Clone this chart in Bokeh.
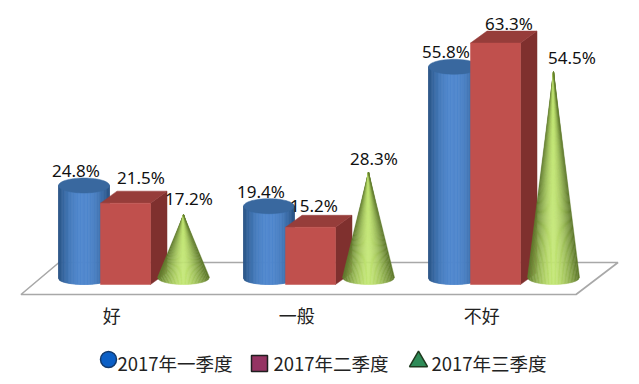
import math
from bokeh.plotting import figure
from bokeh.models import FixedTicker, Range1d
from bokeh.core.properties import value
from bokeh.embed import file_html
from bokeh.resources import INLINE

categories = ["好", "一般", "不好"]
series_names = ["2017年一季度", "2017年二季度", "2017年三季度"]
q1_values = [24.8, 19.4, 55.8]
q2_values = [21.5, 15.2, 63.3]
q3_values = [17.2, 28.3, 54.5]
tick_positions = [0.15, 1.15, 2.15]

# layout: pixels per unit on each scale
PX_Y = 3.83
PX_X = 185.0
W, H = 639, 384
BASE_PX = 285.0   # px from top of value 0
X0_PX = 83.5      # px from left of the first group's origin
x0_units = -X0_PX / PX_X


def dx(px):
    return px / PX_X


def dy(px):
    return px / PX_Y


def mix(a, b, t):
    return "#%02x%02x%02x" % tuple(round(a[i] + (b[i] - a[i]) * t) for i in range(3))


p = figure(width=W, height=H, output_backend="svg", toolbar_location=None,
           x_range=Range1d(x0_units, x0_units + W / PX_X),
           y_range=Range1d(-(H - BASE_PX) / PX_Y, BASE_PX / PX_Y),
           min_border=0, min_border_left=0, min_border_right=0, min_border_top=0, min_border_bottom=0,
           background_fill_color="white", border_fill_color="white", outline_line_color=None)
p.grid.visible = False
p.yaxis.visible = False
ax = p.xaxis[0]
ax.fixed_location = -dy(6)
ax.ticker = FixedTicker(ticks=tick_positions)
ax.major_label_overrides = {t: c for t, c in zip(tick_positions, categories)}
ax.axis_line_color = None
ax.major_tick_line_color = None
ax.minor_tick_line_color = None
ax.major_label_standoff = 4
ax.major_label_text_font = "Noto Sans CJK SC"
ax.major_label_text_font_size = "18px"
ax.major_label_text_color = "#222222"

# floor
p.patch([dx(-63), dx(492), dx(534), dx(-25)], [dy(-9), dy(-9), dy(23), dy(23)],
        fill_color="white", line_color="#a8a8a8", line_width=1.6)

N = 36
CYL_RX, CYL_TOP_RY, CYL_BOT_RY = 25.5, 7.5, 6
CONE_RX, CONE_RY = 26, 7
for g in range(3):
    # cylinder
    cx = g
    v = q1_values[g]
    xs, ys, cols = [], [], []
    for i in range(N):
        t0, t1 = -1 + 2 * i / N, -1 + 2 * (i + 1) / N
        m = (t0 + t1) / 2
        shade = (1 - abs(m) ** 2.2)
        col = mix((38, 80, 128), (80, 136, 206), shade)
        b0 = dy(7 - CYL_BOT_RY * math.sqrt(max(0, 1 - t0 * t0)))
        b1 = dy(7 - CYL_BOT_RY * math.sqrt(max(0, 1 - t1 * t1)))
        top = v + dy(5)
        xs.append([cx + dx(t0 * CYL_RX), cx + dx(t1 * CYL_RX), cx + dx(t1 * CYL_RX), cx + dx(t0 * CYL_RX)])
        ys.append([b0, b1, top, top])
        cols.append(col)
    p.patches(xs, ys, fill_color=cols, line_color=cols, line_width=0.8)
    ex = [cx + dx(CYL_RX * math.cos(a * math.pi / 30)) for a in range(60)]
    ey = [v + dy(5 + CYL_TOP_RY * math.sin(a * math.pi / 30)) for a in range(60)]
    p.patch(ex, ey, fill_color="#39689f", line_color="#39689f", line_width=0.5)

    # box
    v = q2_values[g]
    L, R, D, U = 16.5, 66.5, 16.5, 12
    p.patch([cx + dx(R), cx + dx(R + D), cx + dx(R + D), cx + dx(R)],
            [dy(1), dy(1 + U), v + dy(U), v], fill_color="#7f302e", line_color="#7f302e", line_width=0.5)
    p.patch([cx + dx(L), cx + dx(L + D), cx + dx(R + D), cx + dx(R)],
            [v, v + dy(U), v + dy(U), v], fill_color="#963d3a", line_color="#963d3a", line_width=0.5)
    p.quad(left=[cx + dx(L)], right=[cx + dx(R)], bottom=[dy(1)], top=[v],
           fill_color="#c0504d", line_color="#c0504d", line_width=0.5)

    # cone
    v = q3_values[g]
    ccx = cx + dx(99.5)
    xs, ys, cols = [], [], []
    for i in range(N):
        t0, t1 = -1 + 2 * i / N, -1 + 2 * (i + 1) / N
        m = (t0 + t1) / 2
        shade = (1 - abs(m) ** 1.6)
        col = mix((92, 118, 42), (194, 230, 116), shade)
        b0 = dy(8 - CONE_RY * math.sqrt(max(0, 1 - t0 * t0)))
        b1 = dy(8 - CONE_RY * math.sqrt(max(0, 1 - t1 * t1)))
        xs.append([ccx + dx(t0 * CONE_RX), ccx + dx(t1 * CONE_RX), ccx])
        ys.append([b0, b1, v + dy(5)])
        cols.append(col)
    p.patches(xs, ys, fill_color=cols, line_color=cols, line_width=0.45)

# value labels
lab_x, lab_y, lab_t = [], [], []
cyl_dx, box_dx, cone_dx = [-8, -8, -8], [57, 45, 55], [105, 105, 118]
box_dy = [26, 22, 20]
cone_dy = [21, 19, 19]
for g in range(3):
    lab_x += [g + dx(cyl_dx[g]), g + dx(box_dx[g]), g + dx(cone_dx[g])]
    lab_y += [q1_values[g] + dy(20), q2_values[g] + dy(box_dy[g]), q3_values[g] + dy(cone_dy[g])]
    lab_t += [f"{q1_values[g]}%", f"{q2_values[g]}%", f"{q3_values[g]}%"]
p.text(lab_x, lab_y, text=lab_t, text_align="center", text_baseline="middle",
       text_font=value("Noto Sans"), text_font_size="17px", text_color="#111111")

# legend, placed in page pixels through the same scales
def lx(px):
    return x0_units + dx(px)


def ly(px):
    return dy(BASE_PX - px)


leg_marker_x = [108, 259, 418]
leg_marker_y = [359, 363, 361]
leg_text_x = [117, 273, 431]
leg_text_y = 362
for i, (m, fc, lc, sz) in enumerate([("circle", "#0b5fc6", "#123a6e", 16),
                                     ("square", "#953463", "#1f1f1f", 16),
                                     ("triangle", "#2e8b57", "#1f3a1f", 18)]):
    p.scatter([lx(leg_marker_x[i])], [ly(leg_marker_y[i])], marker=m, size=sz,
              fill_color=fc, line_color=lc, line_width=1.5)
p.text([lx(v) for v in leg_text_x], [ly(leg_text_y)] * 3, text=series_names,
       text_align="left", text_baseline="middle", text_font=value("Noto Sans CJK SC"),
       text_font_size="18.5px", text_color="#222222")

open("out.html", "w").write(file_html(p, INLINE))
